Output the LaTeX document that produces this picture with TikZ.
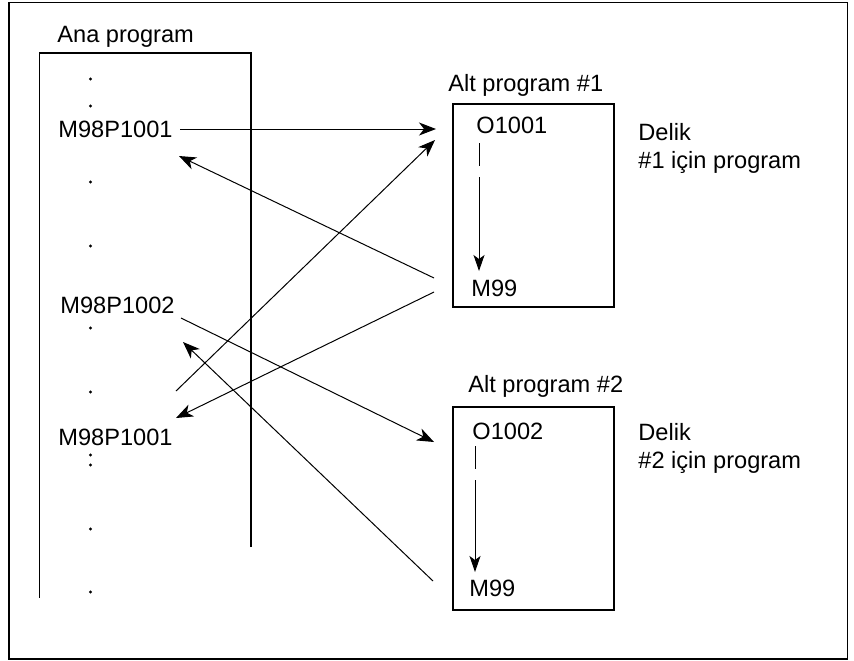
\documentclass[tikz,border=0pt]{standalone}
\usepackage{fontspec}
\setmainfont{Liberation Sans}
\usetikzlibrary{arrows.meta}

\begin{document}
\begin{tikzpicture}[x=0.5pt,y=-0.5pt,
    txt/.style={inner sep=0pt,anchor=base west,font=\fontsize{11.8}{14}\selectfont},
    box/.style={draw,line width=0.6pt,inner sep=0pt,minimum width=80.5pt,minimum height=101.5pt},
    jump/.style={line width=0.5pt,-{Stealth[length=8.5pt,width=6.5pt,inset=2.5pt]}},
    flow/.style={line width=0.5pt,dash pattern=on 11.5pt off 5.5pt on 200pt off 1pt,-{Stealth[length=8pt,width=5.5pt,inset=2pt]}}]
    \useasboundingbox (0,0) rectangle (854,660);
    \draw [line width=0.9pt] (9,2.5) rectangle (847.5,659);

    % main program
    \node [txt] (ana) at (57,42) {Ana program};
    \draw [line width=0.6pt] (251,547) -- (251,53) -- (39.5,53) -- (39.5,598);
    \node [txt] (call1) at (58,137) {M98P1001};
    \node [txt] (call2) at (60,313) {M98P1002};
    \node [txt] (call3) at (58,445) {M98P1001};
    \foreach \y in {79,106,182,246,328,392,455,465,529,592} {
        \fill (90.5,\y) circle (1.6);
    }

    % sub programs
    \node [txt] (alt1) at (448,91) {Alt program \#1};
    \node [box] (sub1) at (533.5,205.5) {};
    \node [txt] (o1) at (476,133) {O1001};
    \node [txt] (r1) at (471,296) {M99};
    \node [txt,anchor=north west,align=left] (d1) at (638,123) {Delik\\\#1 için program};

    \node [txt] (alt2) at (468,392) {Alt program \#2};
    \node [box] (sub2) at (533.5,508.5) {};
    \node [txt] (o2) at (472,439) {O1002};
    \node [txt] (r2) at (469,596) {M99};
    \node [txt,anchor=north west,align=left] (d2) at (638,423) {Delik\\\#2 için program};

    % connector ends
    \coordinate (go1) at (180,129);
    \coordinate (in1) at (436,129);
    \coordinate (out1a) at (434,278);
    \coordinate (back1) at (179,156);
    \coordinate (go3) at (176,391);
    \coordinate (in1b) at (435,140);
    \coordinate (out1b) at (434,292);
    \coordinate (back3) at (176,418);
    \coordinate (go2) at (181,318);
    \coordinate (in2) at (434,442);
    \coordinate (out2) at (433,581);
    \coordinate (back2) at (183,342);
    \coordinate (f1s) at (479,143);
    \coordinate (f1e) at (479,271);
    \coordinate (f2s) at (475,446);
    \coordinate (f2e) at (475,572);

    \draw [jump] (go1) -- (in1);
    \draw [jump] (out1a) -- (back1);
    \draw [jump] (go3) -- (in1b);
    \draw [jump] (out1b) -- (back3);
    \draw [jump] (go2) -- (in2);
    \draw [jump] (out2) -- (back2);
    \draw [flow] (f1s) -- (f1e);
    \draw [flow] (f2s) -- (f2e);
\end{tikzpicture}
\end{document}
